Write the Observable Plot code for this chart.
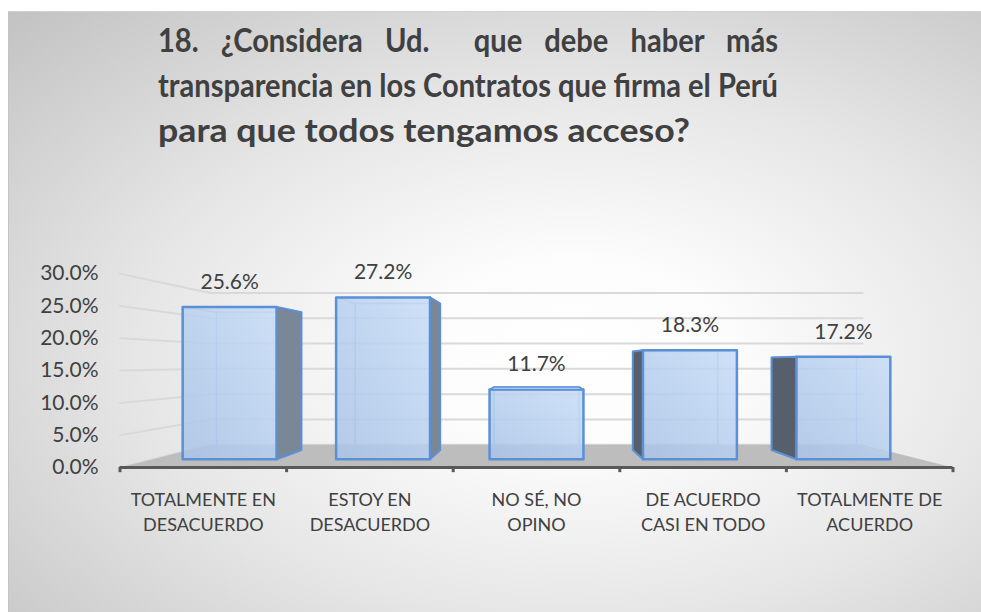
<!DOCTYPE html>
<html><head><meta charset="utf-8">
<script src="https://cdn.jsdelivr.net/npm/d3@7"></script>
<script src="https://cdn.jsdelivr.net/npm/@observablehq/plot@0.6"></script>
<style>
html,body{margin:0;padding:0;background:#fff;}
#wrap{position:relative;width:981px;height:612px;overflow:hidden;font-family:Lato,"Open Sans",sans-serif;}
#frame{position:absolute;left:8px;top:11px;width:990px;height:620px;
  background:radial-gradient(ellipse farthest-corner at 57% 55%, #ffffff 0%, #fcfcfc 20%, #e6e6e6 55%, #c2c2c2 100%);
  border-top:1px solid #d0d0d0;border-left:1px solid #c4c4c4;}
#title{position:absolute;left:158px;top:17px;font-weight:700;font-size:32.5px;line-height:45px;color:#404040;}
#title div{white-space:nowrap;transform-origin:0 0;height:45px;}
#chart{position:absolute;left:0;top:0;}
</style></head>
<body><div id="wrap"><div id="frame"></div><div id="chart"></div><div id="title"></div></div>
<script>
const titleLines = ["18. ¿Considera Ud.\u00a0 que debe haber más", "transparencia en los Contratos que firma el Perú", "para que todos tengamos acceso?"];
const categories = ["TOTALMENTE EN\nDESACUERDO", "ESTOY EN\nDESACUERDO", "NO SÉ, NO\nOPINO", "DE ACUERDO\nCASI EN TODO", "TOTALMENTE DE\nACUERDO"];
const values = [25.6, 27.2, 11.7, 18.3, 17.2];
const yTicks = [0, 5, 10, 15, 20, 25, 30];

// title: lines 1-2 justified to the box width, line 3 left aligned
const TITLE_W = 620, LAST_W = 532;
const t = document.getElementById("title");
const divs = titleLines.map(l => {
  const d = document.createElement("div");
  const s = document.createElement("span");
  s.textContent = l;
  d.appendChild(s);
  t.appendChild(d);
  return d;
});
const natural = divs.map(d => d.firstChild.getBoundingClientRect().width);
const k2 = TITLE_W / natural[1];
divs[1].style.transform = `scaleX(${k2})`;
divs[0].style.width = (TITLE_W / k2) + "px";
divs[0].style.textAlign = "justify";
divs[0].style.textAlignLast = "justify";
divs[0].style.transform = `scaleX(${k2})`;
divs[2].style.transform = `scaleX(${LAST_W / natural[2]})`;

// one-point perspective of the 3D column chart (data space)
const V0 = 16.25, S_WALL = 0.783, S_BF = 0.921, S_BB = 0.833, HALF = 0.306;
const n = categories.length, mid = (n - 1) / 2;
const P = (X, v, s, id) => ({px: s * X, py: V0 + s * (v - V0), id});
const poly = (pts, id) => pts.concat([pts[0]]).map(p => ({...p, id}));

const floor = poly([P(-n/2, 0, 1), P(n/2, 0, 1), P(n/2, 0, S_WALL), P(-n/2, 0, S_WALL)], "floor");
const grid = [];
yTicks.forEach(tk => {
  grid.push(P(-n/2, tk, 1, "s" + tk), P(-n/2, tk, S_WALL, "s" + tk));
  grid.push(P(-n/2, tk, S_WALL, "b" + tk), P(n/2, tk, S_WALL, "b" + tk));
});
const fronts = [], sidesR = [], sidesL = [], tops = [], hidden = [];
values.forEach((v, i) => {
  const c = i - mid, L = c - HALF, R = c + HALF;
  fronts.push(...poly([P(L,0,S_BF), P(R,0,S_BF), P(R,v,S_BF), P(L,v,S_BF)], "f" + i));
  if (c < 0) sidesR.push(...poly([P(R,0,S_BF), P(R,0,S_BB), P(R,v,S_BB), P(R,v,S_BF)], "r" + i));
  if (c > 0) sidesL.push(...poly([P(L,0,S_BF), P(L,0,S_BB), P(L,v,S_BB), P(L,v,S_BF)], "l" + i));
  if (v < V0) tops.push(...poly([P(L,v,S_BF), P(R,v,S_BF), P(R,v,S_BB), P(L,v,S_BB)], "t" + i));
  hidden.push(...poly([P(L,0,S_BB), P(R,0,S_BB), P(R,v,S_BB), P(L,v,S_BB)], "hb" + i));
  [[L,0],[R,0],[L,v],[R,v]].forEach(([X, y], k) => hidden.push(P(X,y,S_BF,"hd"+i+k), P(X,y,S_BB,"hd"+i+k)));
});

const svg = Plot.plot({
  width: 981, height: 612, margin: 0,
  style: {background: "transparent", fontFamily: "Lato, 'Open Sans', sans-serif", overflow: "visible"},
  x: {type: "linear", domain: [-n/2, n/2], range: [119.5, 952.5], axis: null},
  y: {type: "linear", domain: [0, 30], range: [467, 273.2], axis: null},
  marks: [
    Plot.line(grid, {x: "px", y: "py", z: "id", stroke: "#d9d9d9", strokeWidth: 2}),
    Plot.line(floor, {x: "px", y: "py", z: "id", fill: "#bdbdbd", stroke: "none"}),
    Plot.line(hidden, {x: "px", y: "py", z: "id", stroke: "#9fc0ea", strokeWidth: 1.5}),
    Plot.line(sidesR, {x: "px", y: "py", z: "id", fill: "#7a8797", stroke: "#5b8fd6", strokeWidth: 2, strokeLinejoin: "round"}),
    Plot.line(sidesL, {x: "px", y: "py", z: "id", fill: "#56606c", stroke: "#5b8fd6", strokeWidth: 2, strokeLinejoin: "round"}),
    Plot.line(fronts, {x: "px", y: "py", z: "id", fill: "url(#frontGrad)", fillOpacity: 0.85, stroke: "#5b8fd6", strokeWidth: 2.5, strokeLinejoin: "round"}),
    Plot.line(tops, {x: "px", y: "py", z: "id", fill: "#c4d8f2", stroke: "#5b8fd6", strokeWidth: 1.5}),
    Plot.ruleY([0], {x1: -n/2, x2: n/2, stroke: "#595959", strokeWidth: 3}),
    Plot.ruleX(d3.range(n + 1).map(k => k - n/2), {y1: 0, y2: -0.8, stroke: "#595959", strokeWidth: 3}),
    Plot.text(yTicks, {x: -n/2, y: d => d, text: d => d.toFixed(1) + "%", textAnchor: "end", dx: -21.5, fontSize: 21, fill: "#404040"}),
    Plot.text(values, {x: (d, i) => (i - mid) * S_BF, y: d => V0 + S_BF * (d - V0), text: d => d.toFixed(1) + "%", dy: -25, fontSize: 21, fill: "#404040"}),
    Plot.text(categories, {x: (d, i) => i - mid, y: 0, text: d => d, lineAnchor: "top", dy: 21, fontSize: 18, lineHeight: 1.39, fill: "#404040"})
  ]
});
d3.select(svg).insert("defs", ":first-child").html(
  '<linearGradient id="frontGrad" x1="0" y1="1" x2="1" y2="0">' +
  '<stop offset="0" stop-color="#a9c3e6"/><stop offset="1" stop-color="#c6dcf7"/></linearGradient>');
document.getElementById("chart").appendChild(svg);
</script>
</body></html>
